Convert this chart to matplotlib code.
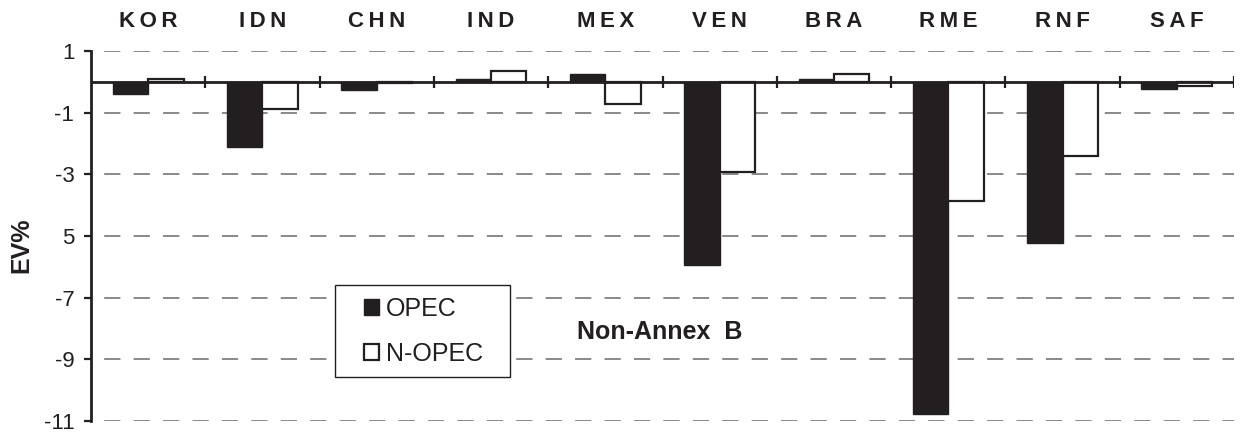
import numpy as np
import matplotlib.pyplot as plt
from matplotlib.patches import Rectangle

# regions and equivalent variation (%) for the two oil market cases
regions = ["KOR", "IDN", "CHN", "IND", "MEX", "VEN", "BRA", "RME", "RNF", "SAF"]
opec = [-0.4, -2.1, -0.25, 0.1, 0.27, -5.93, 0.08, -10.77, -5.22, -0.22]
n_opec = [0.08, -0.87, -0.03, 0.34, -0.73, -2.92, 0.27, -3.87, -2.41, -0.13]
yticks = [1, -1, -3, -5, -7, -9, -11]
ytick_labels = ["1", "-1", "-3", "5", "-7", "-9", "-11"]

plt.rcParams['font.family'] = ['Liberation Sans', 'DejaVu Sans']
ink = '#231f20'

fig = plt.figure(figsize=(12.43, 4.32), dpi=100)
ax = fig.add_axes([91/1243, 11/432, 1143/1243, 370/432])

x = np.arange(len(regions))
w = 0.31
ax.bar(x - w/2, opec, w, color=ink, edgecolor=ink, lw=1, zorder=3, label='OPEC')
ax.bar(x + w/2, n_opec, w, color='white', edgecolor=ink, lw=1.6, zorder=3, label='N-OPEC')

# zero line with group separator ticks
ax.axhline(0, color=ink, lw=2, zorder=4)
ax.vlines(np.arange(len(regions)) + 0.5, -0.2, 0.2, color=ink, lw=1.6, zorder=4)

ax.set_xlim(-0.5, len(regions) - 0.5)
ax.set_ylim(-11, 1)
ax.set_yticks(yticks)
ax.set_yticklabels(ytick_labels, fontsize=16)
ax.tick_params(axis='y', length=5, width=1.6, pad=7, colors=ink)
for y in yticks:
    ax.axhline(y, color='#808080', lw=1.3, linestyle=(9, (9, 7.3)), zorder=1)

ax.xaxis.tick_top()
ax.set_xticks(x)
ax.set_xticklabels(["\u2009".join(r) for r in regions], fontsize=16, fontweight='bold')
ax.tick_params(axis='x', length=0, pad=14, colors=ink)

for s in ['top', 'right', 'bottom']:
    ax.spines[s].set_visible(False)
ax.spines['left'].set_linewidth(2)
ax.spines['left'].set_color(ink)

ax.set_ylabel("EV%", fontsize=18, fontweight='bold', color=ink)
ax.yaxis.set_label_coords(-0.0507, 0.476)

# legend box
ax.add_patch(Rectangle((0.2135, 0.119), 0.1535, 0.2487, transform=ax.transAxes,
                       facecolor='white', edgecolor=ink, lw=1, zorder=5))
leg = ax.legend(loc='upper left', bbox_to_anchor=(0.2385, 0.336), frameon=False,
                fontsize=18, handlelength=0.6, handleheight=0.6,
                handletextpad=0.3, labelspacing=0.85, borderpad=0, borderaxespad=0)
leg.set_zorder(6)
for t in leg.get_texts():
    t.set_color(ink)

ax.text(0.425, 0.2405, "Non-Annex  B", transform=ax.transAxes, fontsize=18,
        fontweight='bold', ha='left', va='center', color=ink)

fig.savefig("out.png", dpi=100)
